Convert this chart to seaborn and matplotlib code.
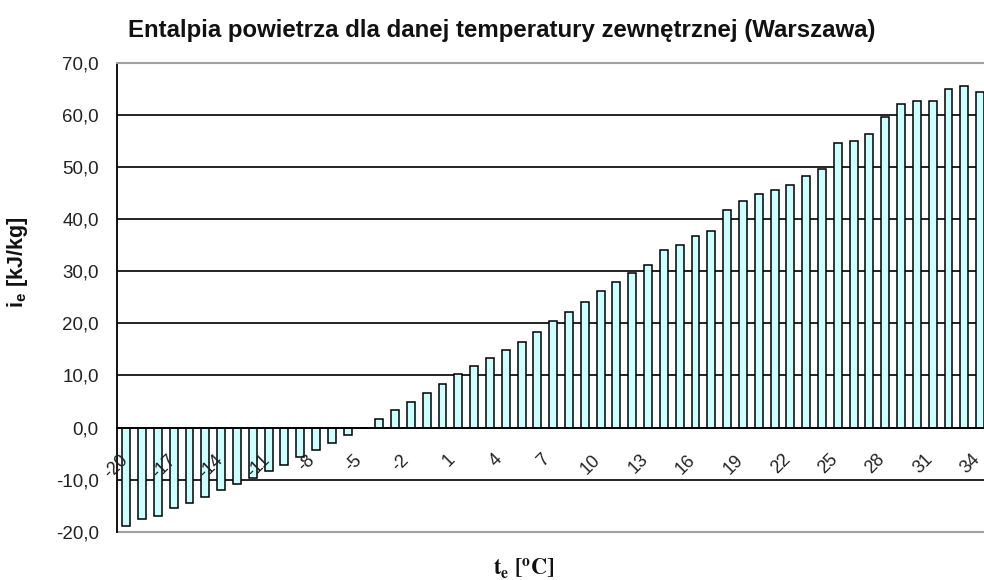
import numpy as np
import pandas as pd
import matplotlib
matplotlib.use("Agg")
import matplotlib.pyplot as plt
import seaborn as sns

# outdoor temperature [C] and air enthalpy [kJ/kg]
temps = list(range(-20, 35))
enthalpy = [-19.0, -17.6, -16.9, -15.4, -14.4, -13.4, -12.0, -10.9, -9.6, -8.4,
            -7.1, -5.6, -4.3, -2.9, -1.5, 0.0, 1.7, 3.4, 4.9, 6.6,
            8.4, 10.2, 11.9, 13.3, 14.8, 16.5, 18.3, 20.4, 22.1, 24.2,
            26.3, 28.0, 29.6, 31.3, 34.0, 35.1, 36.8, 37.8, 41.8, 43.5,
            44.8, 45.6, 46.6, 48.3, 49.6, 54.6, 55.0, 56.4, 59.6, 62.1,
            62.7, 62.7, 65.1, 65.6, 64.5]
labeled_temps = list(range(-20, 35, 3))
y_ticks = list(range(-20, 71, 10))

title = "Entalpia powietrza dla danej temperatury zewnętrznej (Warszawa)"

sns.set_style("white")
plt.rcParams['font.family'] = ['Liberation Sans', 'DejaVu Sans']
plt.rcParams['mathtext.fontset'] = 'custom'
plt.rcParams['mathtext.rm'] = 'Liberation Sans'
plt.rcParams['mathtext.bf'] = 'Liberation Sans:bold'

df = pd.DataFrame({"t": [str(t) for t in temps], "i": enthalpy})

W, H = 984, 580
fig = plt.figure(figsize=(W / 100, H / 100), dpi=100)
left, right, top, bottom = 116.5, 988, 63, 531.7
ax = fig.add_axes([left / W, 1 - bottom / H, (right - left) / W, (bottom - top) / H])

for v in y_ticks[1:-1]:
    ax.axhline(v, color='black', lw=1.2, zorder=0)

sns.barplot(data=df, x="t", y="i", order=df["t"], color='#CCFFFF', saturation=1,
            edgecolor='black', linewidth=1.1, width=0.5, ax=ax, zorder=1)
ax.set_axisbelow(False)  # tick labels drawn over the bars, like the original

ax.set_xlim(-0.5, len(temps) - 0.5)
ax.set_ylim(-20, 70)
ax.set_xlabel('')
ax.set_ylabel('')

ax.set_yticks(y_ticks)
ax.set_yticklabels([f"{v:.1f}".replace('.', ',') for v in y_ticks])
ax.tick_params(axis='y', length=5.8, width=1, color='black', pad=7,
               labelsize=13.5, labelcolor='#222222')

# tick marks between categories, rotated labels (end sits a bit left of the bar)
ax.set_xticks(np.arange(0.5, len(temps) - 1, 1))
ax.set_xticklabels([])
pos = [temps.index(t) - 0.62 for t in labeled_temps]
ax.set_xticks(pos, [str(t) for t in labeled_temps], minor=True)
ax.tick_params(axis='x', which='major', length=5, width=1, color='black', direction='out')
ax.tick_params(axis='x', which='minor', length=0, pad=17, labelsize=13,
               labelcolor='#222222', labelrotation=45)
plt.setp(ax.get_xticklabels(minor=True), ha='right', va='top', rotation_mode='default')

ax.spines['right'].set_visible(False)
ax.spines['left'].set_color('black')
ax.spines['left'].set_linewidth(1.3)
ax.spines['bottom'].set_position(('data', 0))
ax.spines['bottom'].set_color('black')
ax.spines['bottom'].set_linewidth(1.3)
ax.spines['top'].set_color('#a0a0a0')
ax.spines['top'].set_linewidth(1.5)
ax.axhline(-20, color='#a0a0a0', lw=1.5, clip_on=False, zorder=0.5)

fig.text(502 / W, 1 - 30 / H, title, ha='center', va='center',
         fontsize=17.3, fontweight='bold', color='#111111')
fig.text(18 / W, 1 - 262 / H, r'$\mathbf{i_e}$ [kJ/kg]', rotation=90,
         ha='center', va='center', fontsize=15.5, fontweight='bold', color='#111111')
fig.text(524 / W, 1 - 569 / H, r'$\mathbf{t_e\ [^oC]}$', math_fontfamily='stix',
         ha='center', va='center', fontsize=16, color='#111111')

fig.savefig("out.png", dpi=100)
